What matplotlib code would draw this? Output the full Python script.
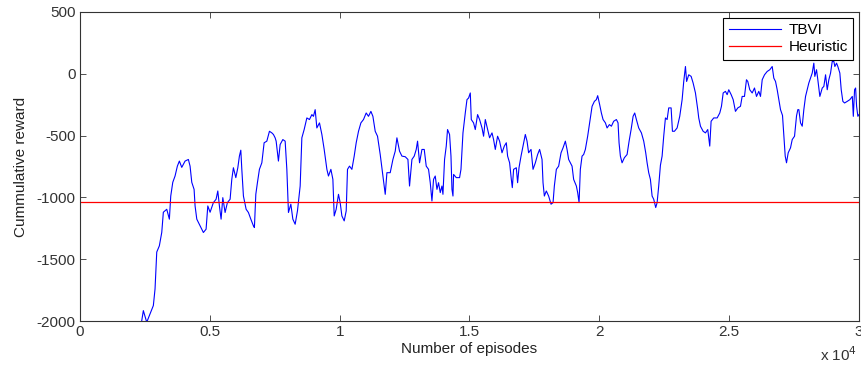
import numpy as np
import matplotlib.pyplot as plt
from matplotlib.ticker import FuncFormatter

# TBVI cumulative reward (episodes, reward)
episodes = [
    0, 1200, 2300, 2440, 2570, 2698, 2775, 2825, 2890, 2956, 3056, 3149, 3210, 3341,
    3442, 3495, 3573, 3661, 3750, 3827, 3919, 4047, 4174, 4239, 4305, 4394, 4432,
    4498, 4625, 4752, 4856, 4922, 5010, 5137, 5241, 5307, 5369, 5434, 5500, 5588,
    5677, 5781, 5846, 5908, 6001, 6078, 6139, 6193, 6232, 6294, 6398, 6486, 6579,
    6679, 6717, 6771, 6833, 6910, 7003, 7091, 7195, 7296, 7388, 7450, 7515, 7554,
    7642, 7708, 7812, 7901, 7966, 8028, 8120, 8197, 8286, 8375, 8479, 8544, 8633,
    8737, 8837, 8930, 8991, 9057, 9122, 9223, 9315, 9404, 9508, 9569, 9662, 9739,
    9790, 9866, 9955, 10020, 10086, 10175, 10252, 10302, 10379, 10471, 10560, 10637,
    10726, 10818, 10918, 11022, 11111, 11203, 11280, 11369, 11458, 11562, 11666,
    11755, 11820, 11947, 12051, 12140, 12205, 12306, 12398, 12525, 12629, 12691,
    12783, 12872, 12949, 13000, 13077, 13169, 13257, 13334, 13423, 13489, 13554,
    13616, 13681, 13747, 13808, 13874, 13939, 13978, 14040, 14105, 14155, 14233,
    14287, 14325, 14364, 14387, 14491, 14618, 14672, 14749, 14838, 14903, 14965,
    15031, 15069, 15157, 15223, 15312, 15389, 15482, 15543, 15609, 15697, 15774,
    15867, 15928, 15994, 16082, 16159, 16252, 16341, 16418, 16468, 16545, 16611,
    16649, 16699, 16803, 16853, 16907, 16985, 17062, 17150, 17216, 17277, 17370,
    17447, 17536, 17624, 17701, 17794, 17832, 17883, 17959, 18048, 18141, 18218,
    18268, 18345, 18434, 18526, 18603, 18692, 18757, 18819, 18884, 18950, 19011,
    19116, 19166, 19220, 19269, 19335, 19397, 19462, 19551, 19628, 19721, 19810,
    19886, 19937, 20014, 20079, 20144, 20234, 20299, 20388, 20465, 20553, 20657,
    20721, 20760, 20811, 20876, 20965, 21069, 21147, 21224, 21301, 21363, 21428,
    21517, 21621, 21710, 21787, 21840, 21902, 21967, 22033, 22095, 22172, 22226,
    22287, 22353, 22418, 22480, 22546, 22611, 22673, 22765, 22816, 22893, 22996,
    23097, 23189, 23251, 23317, 23362, 23444, 23536, 23613, 23702, 23791, 23829,
    23895, 23998, 24088, 24176, 24253, 24305, 24407, 24538, 24639, 24704, 24770,
    24858, 24923, 24985, 25078, 25155, 25243, 25332, 25436, 25501, 25590, 25667,
    25717, 25794, 25887, 25976, 26053, 26142, 26207, 26273, 26362, 26465, 26566,
    26658, 26720, 26786, 26850, 26912, 26978, 27055, 27105, 27159, 27209, 27274,
    27363, 27429, 27518, 27595, 27645, 27684, 27749, 27814, 27876, 27942, 28006,
    28068, 28134, 28199, 28261, 28300, 28365, 28415, 28493, 28585, 28647, 28713,
    28777, 28839, 28905, 28970, 29032, 29071, 29136, 29186, 29263, 29316, 29379,
    29445, 29548, 29649, 29743, 29782, 29830, 29870, 29908, 29957, 30000,
]
tbvi = [
    -4000, -3000, -2100, -1916, -2010, -1942, -1902, -1875, -1741, -1442, -1392, -1283, -1120, -1096,
    -1176, -989, -878, -827, -747, -706, -757, -706, -693, -747, -878, -935, -1069,
    -1176, -1230, -1284, -1257, -1069, -1120, -1042, -1015, -948, -1069, -1176, -1002, -1122,
    -1042, -1015, -854, -760, -840, -760, -666, -618, -773, -989, -1096, -1122, -1176,
    -1230, -1244, -975, -881, -773, -720, -558, -545, -465, -478, -491, -518, -545,
    -706, -572, -532, -545, -773, -1122, -1055, -1176, -1217, -1109, -908, -518, -451,
    -357, -370, -330, -344, -290, -438, -397, -491, -612, -773, -827, -773, -854,
    -1150, -1096, -975, -1042, -1150, -1190, -1109, -773, -747, -773, -666, -558,
    -465, -397, -370, -317, -344, -304, -344, -465, -505, -653, -827,
    -975, -800, -800, -693, -626, -518, -626, -666, -671, -693, -908,
    -693, -666, -612, -545, -720, -612, -612, -747, -773, -881, -1029,
    -854, -827, -935, -881, -961, -908, -975, -693, -585, -451, -491,
    -666, -935, -989, -814, -840, -840, -773, -478, -317, -209, -196,
    -155, -370, -397, -451, -330, -370, -438, -505, -370, -451, -518,
    -478, -532, -612, -505, -545, -639, -585, -558, -666, -720, -854,
    -921, -773, -760, -881, -760, -666, -585, -491, -545, -639, -612,
    -773, -720, -653, -612, -693, -881, -989, -948, -989, -1055, -1042,
    -908, -773, -747, -639, -599, -545, -612, -693, -720, -747, -854,
    -908, -961, -1042, -773, -666, -653, -612, -505, -397, -263, -223,
    -209, -177, -250, -317, -370, -397, -438, -411, -424, -384, -370,
    -397, -558, -666, -720, -679, -653, -545, -451, -344, -317, -370,
    -438, -478, -545, -639, -720, -800, -854, -989, -1015, -1082, -1042,
    -908, -740, -666, -505, -357, -370, -276, -276, -465, -465, -438,
    -344, -209, -62, 59, -62, -8, -21, -75, -155, -290, -357,
    -424, -465, -478, -451, -585, -384, -357, -357, -317, -263, -155,
    -142, -169, -129, -169, -209, -304, -276, -263, -183, -183, -48,
    -62, -129, -155, -115, -183, -142, -183, -48, -8, 19, 33,
    59, -35, -62, -129, -209, -290, -337, -498, -666, -720, -639,
    -599, -532, -505, -340, -290, -290, -397, -424, -290, -183, -129,
    -75, -35, 6, 86, -21, 33, -48, -183, -115, -102, -8,
    -129, -48, 6, 100, 100, 59, 86, 59, 6, -129, -223,
    -236, -223, -209, -183, -344, -129, -115, -263, -344, -330,
]

heuristic = -1035

plt.rcParams['font.family'] = ['Liberation Sans', 'DejaVu Sans']
plt.rcParams['axes.unicode_minus'] = False
fs = 11

fig = plt.figure(figsize=(8.62, 3.68), dpi=100)
ax = fig.add_axes([0.0928, 0.1277, 0.9037, 0.8397])

ax.plot(episodes, tbvi, color=(0, 0, 1), lw=0.8, label='TBVI')
ax.axhline(heuristic, color=(1, 0, 0), lw=0.9, label='Heuristic')

ax.set_xlim(0, 30000)
ax.set_ylim(-2000, 500)
ax.set_xticks(np.arange(0, 30001, 5000))
ax.set_yticks(np.arange(-2000, 501, 500))
ax.xaxis.set_major_formatter(FuncFormatter(lambda v, p: '%g' % (v / 1e4)))
ax.tick_params(direction='in', top=True, right=True, length=4, width=0.6,
               colors='#333333', labelcolor='#333333', labelsize=fs, pad=3)
for s in ax.spines.values():
    s.set_linewidth(0.8)
    s.set_color('#333333')

ax.set_xlabel('Number of episodes', fontsize=fs, labelpad=2, color='#222222')
ax.set_ylabel('Cummulative reward', fontsize=fs, labelpad=6, color='#222222')
fig.text(0.951, 0.018, r'x 10$^4$', fontsize=fs, color='#333333')

leg = ax.legend(loc='upper right', fancybox=False, framealpha=1, edgecolor='black',
                borderpad=0.35, handlelength=3.4, handletextpad=0.5, labelspacing=0.2,
                borderaxespad=0, bbox_to_anchor=(0.9923, 0.981), fontsize=fs)
leg.get_frame().set_linewidth(0.8)

fig.savefig('out.png', dpi=100)
